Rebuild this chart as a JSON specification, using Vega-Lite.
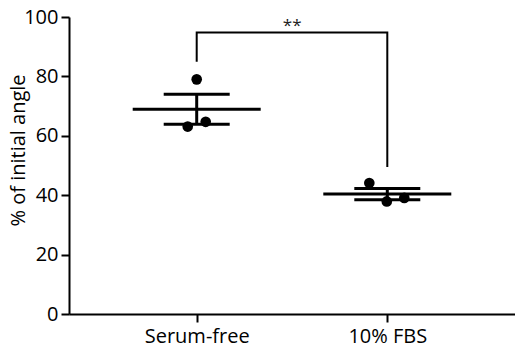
{
  "$schema": "https://vega.github.io/schema/vega-lite/v6.json",
  "width": 446,
  "height": 297,
  "autosize": {"type": "none"},
  "padding": {"left": 69, "top": 17, "right": 0, "bottom": 34},
  "background": "white",
  "config": {
    "view": {"stroke": null},
    "font": "Open Sans",
    "axis": {
      "domainColor": "black",
      "domainWidth": 2,
      "tickColor": "black",
      "tickWidth": 2,
      "tickSize": 8,
      "labelColor": "black",
      "labelFont": "Open Sans",
      "labelFontSize": 20,
      "titleColor": "black",
      "titleFont": "Open Sans",
      "titleFontSize": 20,
      "titleFontWeight": "normal",
      "grid": false
    }
  },
  "datasets": {
    "points": [
      {"group": "Serum-free", "rep": "A", "value": 63.1},
      {"group": "Serum-free", "rep": "B", "value": 79.0},
      {"group": "Serum-free", "rep": "C", "value": 64.7},
      {"group": "10% FBS", "rep": "A", "value": 44.1},
      {"group": "10% FBS", "rep": "B", "value": 37.9},
      {"group": "10% FBS", "rep": "C", "value": 39.1}
    ],
    "bracket": [
      {"group": "Serum-free", "step": 1, "value": 85.3},
      {"group": "Serum-free", "step": 2, "value": 94.8},
      {"group": "10% FBS", "step": 3, "value": 94.8},
      {"group": "10% FBS", "step": 4, "value": 49.8}
    ],
    "annot": [
      {"group": "Serum-free", "value": 95.2, "label": "**"}
    ]
  },
  "encoding": {
    "x": {
      "field": "group",
      "type": "nominal",
      "sort": ["Serum-free", "10% FBS"],
      "scale": {"type": "point", "padding": 0.67},
      "axis": {"title": null, "labelAngle": 0, "labelPadding": 4}
    }
  },
  "layer": [
    {
      "data": {"name": "points"},
      "mark": {"type": "tick", "size": 128, "thickness": 3, "color": "black", "opacity": 1},
      "encoding": {
        "y": {
          "aggregate": "mean",
          "field": "value",
          "type": "quantitative",
          "title": "% of initial angle",
          "scale": {"domain": [0, 100], "nice": false},
          "axis": {
            "values": [0, 20, 40, 60, 80, 100],
            "labelPadding": 3,
            "titleX": -41,
            "titleY": 133
          }
        }
      }
    },
    {
      "data": {"name": "points"},
      "mark": {
        "type": "errorbar",
        "extent": "stderr",
        "color": "black",
        "opacity": 1,
        "ticks": {"size": 66, "thickness": 3, "color": "black", "opacity": 1},
        "rule": {"strokeWidth": 3, "color": "black", "opacity": 1}
      },
      "encoding": {
        "y": {"field": "value", "type": "quantitative", "title": "% of initial angle"}
      }
    },
    {
      "data": {"name": "points"},
      "transform": [{"filter": "datum.group === 'Serum-free'"}],
      "mark": {"type": "circle", "size": 113, "color": "black", "opacity": 1},
      "encoding": {
        "y": {"field": "value", "type": "quantitative", "title": "% of initial angle"},
        "xOffset": {
          "field": "rep",
          "type": "nominal",
          "scale": {"type": "point", "padding": 0, "range": [-9, 9]}
        }
      }
    },
    {
      "data": {"name": "points"},
      "transform": [{"filter": "datum.group === '10% FBS'"}],
      "mark": {"type": "circle", "size": 113, "color": "black", "opacity": 1},
      "encoding": {
        "y": {"field": "value", "type": "quantitative", "title": "% of initial angle"},
        "xOffset": {
          "field": "rep",
          "type": "nominal",
          "scale": {"type": "point", "padding": 0, "range": [-18, 17]}
        }
      }
    },
    {
      "data": {"name": "bracket"},
      "mark": {"type": "line", "color": "black", "strokeWidth": 2, "strokeCap": "square"},
      "encoding": {
        "y": {"field": "value", "type": "quantitative", "title": "% of initial angle"},
        "order": {"field": "step", "type": "quantitative"}
      }
    },
    {
      "data": {"name": "annot"},
      "mark": {"type": "text", "dx": 95.5, "fontSize": 17, "color": "#222", "baseline": "alphabetic", "align": "center", "font": "Open Sans"},
      "encoding": {
        "y": {"field": "value", "type": "quantitative", "title": "% of initial angle"},
        "text": {"field": "label"}
      }
    }
  ],
  "resolve": {"scale": {"xOffset": "independent"}}
}
